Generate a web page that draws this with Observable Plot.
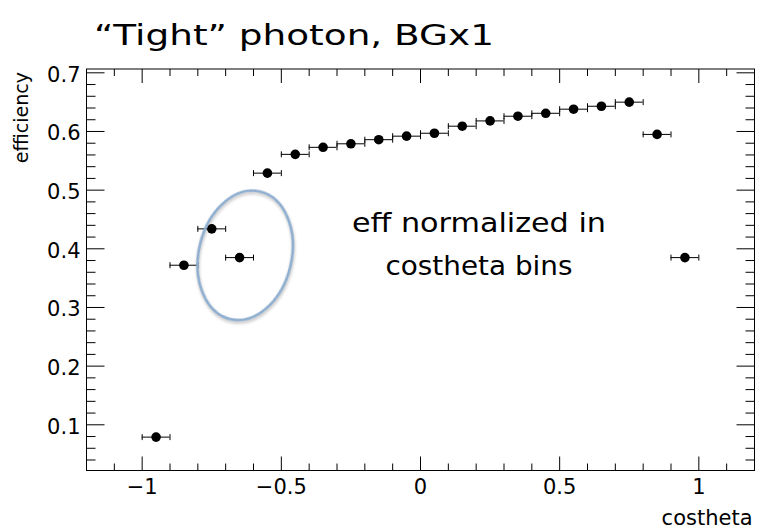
<!DOCTYPE html>
<html>
<head>
<meta charset="utf-8">
<script src="https://cdn.jsdelivr.net/npm/d3@7"></script>
<script src="https://cdn.jsdelivr.net/npm/@observablehq/plot@0.6"></script>
<style>
  body { margin: 0; background: #fff; }
  #wrap { width: 759px; height: 529px; overflow: hidden; background: #fff; }
  #wrap svg { display: block; }
</style>
</head>
<body>
<div id="wrap">
  <svg id="titleSvg" width="759" height="60">
    <text id="titleText" x="94" y="45" font-family="DejaVu Sans" font-size="27.5" fill="#000">“Tight” photon, BGx1</text>
  </svg>
  <div id="chart"></div>
</div>
<script>
// ---- data ----
const binCenters = [-0.95, -0.85, -0.75, -0.65, -0.55, -0.45, -0.35, -0.25, -0.15, -0.05,
                     0.05,  0.15,  0.25,  0.35,  0.45,  0.55,  0.65,  0.75,  0.85,  0.95];
const efficiency = [0.079, 0.372, 0.434, 0.385, 0.529, 0.561, 0.573, 0.579, 0.586, 0.592,
                    0.597, 0.609, 0.618, 0.626, 0.631, 0.638, 0.643, 0.650, 0.595, 0.385];
const binHalfWidth = 0.05;

const xMajorTicks = [-1, -0.5, 0, 0.5, 1];
const xTickLabels = ["−1", "−0.5", "0", "0.5", "1"];
const xMinorTicks = [-1.1, -0.9, -0.8, -0.7, -0.6, -0.4, -0.3, -0.2, -0.1,
                      0.1, 0.2, 0.3, 0.4, 0.6, 0.7, 0.8, 0.9, 1.1];
const yMajorTicks = [0.1, 0.2, 0.3, 0.4, 0.5, 0.6, 0.7];
const yTickLabels = ["0.1", "0.2", "0.3", "0.4", "0.5", "0.6", "0.7"];
const yMinorTicks = [0.04, 0.06, 0.08, 0.12, 0.14, 0.16, 0.18, 0.22, 0.24, 0.26, 0.28,
                     0.32, 0.34, 0.36, 0.38, 0.42, 0.44, 0.46, 0.48, 0.52, 0.54, 0.56, 0.58,
                     0.62, 0.64, 0.66, 0.68];

const annotationLines = ["eff normalized in", "costheta bins"];
const annotationX = [0.21, 0.21];
const annotationY = [0.4295, 0.3547];

const xLabel = "costheta";
const yLabel = "efficiency";

// highlighted region (ellipse) center in data units
const ellipseCenter = {x: -0.628, y: 0.388};

// ---- build table ----
const points = binCenters.map((x, i) => ({x, eff: efficiency[i], lo: x - binHalfWidth, hi: x + binHalfWidth}));
const caps = points.flatMap(p => [{x: p.lo, eff: p.eff}, {x: p.hi, eff: p.eff}]);
const anno = annotationLines.map((t, i) => ({t, x: annotationX[i], y: annotationY[i]}));
const xFmt = d => xTickLabels[xMajorTicks.indexOf(d)];
const yFmt = d => yTickLabels[yMajorTicks.indexOf(d)];

// custom line symbols
const hLine = len => ({draw(ctx) { ctx.moveTo(0, 0); ctx.lineTo(len, 0); }});
const vLine = len => ({draw(ctx) { ctx.moveTo(0, 0); ctx.lineTo(0, len); }});
const capSym = h => ({draw(ctx) { ctx.moveTo(0, -h); ctx.lineTo(0, h); }});

const tickStyle = {stroke: "#000", strokeWidth: 1, fill: "none", r: 1};

const ellipseMark = (index, scales) => {
  const ns = "http://www.w3.org/2000/svg";
  const g = document.createElementNS(ns, "g");
  const cx = scales.x(ellipseCenter.x), cy = scales.y(ellipseCenter.y);
  const el = document.createElementNS(ns, "ellipse");
  el.setAttribute("cx", 0); el.setAttribute("cy", 0);
  el.setAttribute("rx", 46.5); el.setAttribute("ry", 65.5);
  el.setAttribute("transform", `translate(${cx},${cy}) rotate(13)`);
  el.setAttribute("fill", "none");
  el.setAttribute("stroke", "#8eaed0");
  el.setAttribute("stroke-width", 2.6);
  el.setAttribute("style", "filter: drop-shadow(1px 2.5px 1.5px rgba(0,0,0,0.25))");
  g.appendChild(el);
  return g;
};

const chart = Plot.plot({
  width: 759,
  height: 469,
  marginTop: 8.5,
  marginBottom: 59,
  marginLeft: 86,
  marginRight: 5,
  style: {fontFamily: "DejaVu Sans", fontSize: "21px", color: "#000", background: "#fff"},
  x: {domain: [-1.2, 1.2]},
  y: {domain: [0.0221, 0.7065]},
  marks: [
    // inward ticks on all four sides
    Plot.dot(yMajorTicks, {y: d => d, frameAnchor: "left", symbol: hLine(18), ...tickStyle}),
    Plot.dot(yMinorTicks, {y: d => d, frameAnchor: "left", symbol: hLine(9), ...tickStyle}),
    Plot.dot(yMajorTicks, {y: d => d, frameAnchor: "right", symbol: hLine(-18), ...tickStyle}),
    Plot.dot(yMinorTicks, {y: d => d, frameAnchor: "right", symbol: hLine(-9), ...tickStyle}),
    Plot.dot(xMajorTicks, {x: d => d, frameAnchor: "bottom", symbol: vLine(-14), ...tickStyle}),
    Plot.dot(xMinorTicks, {x: d => d, frameAnchor: "bottom", symbol: vLine(-7), ...tickStyle}),
    Plot.dot(xMajorTicks, {x: d => d, frameAnchor: "top", symbol: vLine(14), ...tickStyle}),
    Plot.dot(xMinorTicks, {x: d => d, frameAnchor: "top", symbol: vLine(7), ...tickStyle}),
    Plot.frame({stroke: "#000", strokeWidth: 1}),
    Plot.axisX(xMajorTicks, {tickSize: 0, tickPadding: 9, label: null, fontSize: 21, tickFormat: xFmt}),
    Plot.axisY(yMajorTicks, {tickSize: 0, tickPadding: 6, label: null, fontSize: 21, dy: 2, tickFormat: yFmt}),
    Plot.text([xLabel], {frameAnchor: "bottom-right", text: d => d, textAnchor: "end", lineAnchor: "bottom", dx: -2, dy: 54, fontSize: 21}),
    Plot.text([yLabel], {frameAnchor: "top-left", text: d => d, textAnchor: "end", lineAnchor: "bottom", rotate: -90, dx: -58.5, dy: 3, fontSize: 19}),
    // error bars
    Plot.ruleY(points, {y: "eff", x1: "lo", x2: "hi", stroke: "#000", strokeWidth: 1}),
    Plot.dot(caps, {x: "x", y: "eff", symbol: capSym(3), stroke: "#000", strokeWidth: 1, fill: "none", r: 1}),
    Plot.dot(points, {x: "x", y: "eff", r: 4.8, fill: "#000", stroke: "none"}),
    // annotation
    Plot.text(anno, {x: "x", y: "y", text: "t", textAnchor: "middle", lineAnchor: "bottom", fontSize: 27, className: "anno"}),
    ellipseMark
  ]
});
document.getElementById("chart").appendChild(chart);

// stretch the lettering to match the reference's wide face
const fit = (el, w) => { el.setAttribute("textLength", w); el.setAttribute("lengthAdjust", "spacingAndGlyphs"); };
fit(document.getElementById("titleText"), 400);
const annoTexts = chart.querySelectorAll(".anno text");
const annoWidths = [254, 187];
annoTexts.forEach((t, i) => fit(t, annoWidths[i]));
</script>
</body>
</html>
